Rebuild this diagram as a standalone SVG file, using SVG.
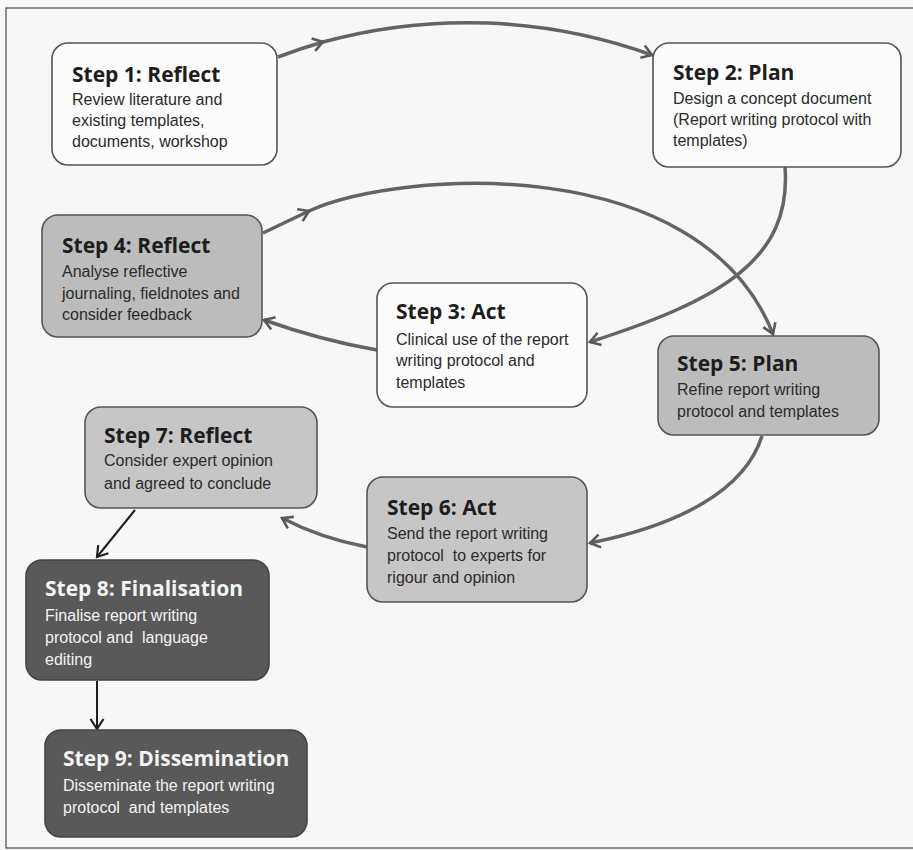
<svg xmlns="http://www.w3.org/2000/svg" width="913" height="850" viewBox="0 0 913 850">
<style>
.box-w{fill:#fcfcfc;stroke:#555;stroke-width:1.6}
.box-g{fill:#bcbcbc;stroke:#555;stroke-width:1.6}
.box-l{fill:#c6c6c6;stroke:#555;stroke-width:1.6}
.box-d{fill:#595959;stroke:#444;stroke-width:1.6}
.t{font-family:"Open Sans","Noto Sans",sans-serif;font-weight:700;font-size:21px;fill:#1d1d1d}
.b{font-family:"Liberation Sans",Arial,sans-serif;font-size:16px;fill:#2b2b2b;white-space:pre}
.dk .t,.dk .b{fill:#f3f3f3}
.con{fill:none;stroke:#646464;stroke-width:3.5}
.blk{fill:none;stroke:#1e1e1e;stroke-width:2}
</style>
<defs>
<marker id="ah" markerUnits="userSpaceOnUse" markerWidth="16" markerHeight="16" viewBox="0 0 16 16" refX="13" refY="8" orient="auto">
<path d="M3,1.5 L13,8 L3,14.5" fill="none" stroke="#5a5a5a" stroke-width="2.6" stroke-linejoin="miter"/>
</marker>
<marker id="ahb" markerUnits="userSpaceOnUse" markerWidth="16" markerHeight="16" viewBox="0 0 16 16" refX="13" refY="8" orient="auto">
<path d="M3,1.5 L13,8 L3,14.5" fill="none" stroke="#1e1e1e" stroke-width="2.2"/>
</marker>
</defs>
<rect x="0" y="0" width="913" height="850" fill="#f7f7f7"/>
<path d="M913,8 L6,8 L6,848 L913,848" fill="none" stroke="#6e6e6e" stroke-width="1.5"/>

<g id="connectors">
<path class="con" d="M278,57 A546,546 0 0 1 323,42 A546,546 0 0 1 652,55" marker-mid="url(#ah)" marker-end="url(#ah)"/>
<path class="con" d="M785,167 C792,260 720,300 590,342" marker-end="url(#ah)"/>
<path class="con" d="M377,350 Q320,340 264,320" marker-end="url(#ah)"/>
<path class="con" d="M263,233 L309,211 C400,170 700,150 773,334" marker-mid="url(#ah)" marker-end="url(#ah)"/>
<path class="con" d="M762,436 C745,490 680,525 590,543" marker-end="url(#ah)"/>
<path class="con" d="M367,547 Q320,538 282,518" marker-end="url(#ah)"/>
<path class="blk" d="M135,510 L97,557" marker-end="url(#ahb)"/>
<path class="blk" d="M97,681 L97,729" marker-end="url(#ahb)"/>
</g>

<g id="step1">
<rect class="box-w" x="52" y="43" width="225" height="122" rx="16"/>
<text class="t" x="72" y="82">Step 1: Reflect</text>
<text class="b" x="72" y="105">Review literature and</text>
<text class="b" x="72" y="126">existing templates,</text>
<text class="b" x="72" y="147">documents, workshop</text>
</g>

<g id="step2">
<rect class="box-w" x="653" y="43" width="248" height="124" rx="16"/>
<text class="t" x="673" y="80">Step 2: Plan</text>
<text class="b" x="673" y="104">Design a concept document</text>
<text class="b" x="673" y="125">(Report writing protocol with</text>
<text class="b" x="673" y="146">templates)</text>
</g>

<g id="step4">
<rect class="box-g" x="42" y="215" width="220" height="122" rx="16"/>
<text class="t" x="62" y="253">Step 4: Reflect</text>
<text class="b" x="62" y="277">Analyse reflective</text>
<text class="b" x="62" y="299">journaling, fieldnotes and</text>
<text class="b" x="62" y="320">consider feedback</text>
</g>

<g id="step3">
<rect class="box-w" x="377" y="283" width="210" height="124" rx="16"/>
<text class="t" x="396" y="319">Step 3: Act</text>
<text class="b" x="396" y="345">Clinical use of the report</text>
<text class="b" x="396" y="366">writing protocol and</text>
<text class="b" x="396" y="388">templates</text>
</g>

<g id="step5">
<rect class="box-g" x="658" y="336" width="221" height="99" rx="16"/>
<text class="t" x="677" y="371">Step 5: Plan</text>
<text class="b" x="677" y="395">Refine report writing</text>
<text class="b" x="677" y="417">protocol and templates</text>
</g>

<g id="step7">
<rect class="box-l" x="85" y="407" width="232" height="101" rx="16"/>
<text class="t" x="104" y="443">Step 7: Reflect</text>
<text class="b" x="104" y="466">Consider expert opinion</text>
<text class="b" x="104" y="489">and agreed to conclude</text>
</g>

<g id="step6">
<rect class="box-l" x="367" y="477" width="220" height="125" rx="16"/>
<text class="t" x="387" y="515">Step 6: Act</text>
<text class="b" x="387" y="539">Send the report writing</text>
<text class="b" x="387" y="561">protocol  to experts for</text>
<text class="b" x="387" y="583">rigour and opinion</text>
</g>

<g id="step8" class="dk">
<rect class="box-d" x="26" y="560" width="243" height="120" rx="16"/>
<text class="t" x="45" y="596">Step 8: Finalisation</text>
<text class="b" x="45" y="621">Finalise report writing</text>
<text class="b" x="45" y="643">protocol and  language</text>
<text class="b" x="45" y="665">editing</text>
</g>

<g id="step9" class="dk">
<rect class="box-d" x="45" y="730" width="262" height="107" rx="16"/>
<text class="t" x="63" y="766">Step 9: Dissemination</text>
<text class="b" x="63" y="791">Disseminate the report writing</text>
<text class="b" x="63" y="813">protocol  and templates</text>
</g>
</svg>
